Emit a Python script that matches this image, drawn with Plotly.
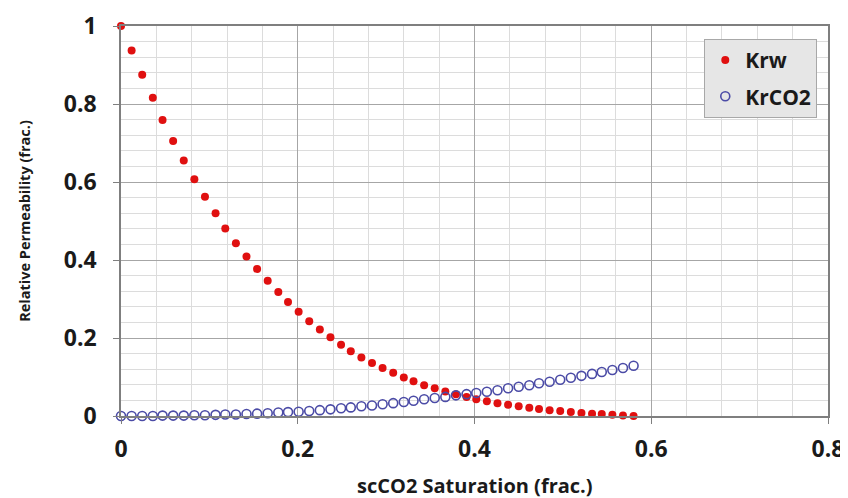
import plotly.graph_objects as go

sg = [0.000, 0.012, 0.024, 0.036, 0.047, 0.059, 0.071, 0.083, 0.095, 0.107,
      0.118, 0.130, 0.142, 0.154, 0.166, 0.178, 0.189, 0.201, 0.213, 0.225,
      0.237, 0.249, 0.260, 0.272, 0.284, 0.296, 0.308, 0.320, 0.331, 0.343,
      0.355, 0.367, 0.379, 0.391, 0.402, 0.414, 0.426, 0.438, 0.450, 0.462,
      0.473, 0.485, 0.497, 0.509, 0.521, 0.533, 0.544, 0.556, 0.568, 0.580]

krw = [1.000, 0.937, 0.875, 0.816, 0.759, 0.705, 0.655, 0.607, 0.562, 0.520,
       0.481, 0.443, 0.409, 0.377, 0.347, 0.318, 0.292, 0.267, 0.243, 0.222,
       0.202, 0.183, 0.166, 0.150, 0.136, 0.123, 0.111, 0.099, 0.089, 0.079,
       0.071, 0.063, 0.056, 0.049, 0.043, 0.038, 0.033, 0.029, 0.025, 0.021,
       0.018, 0.015, 0.013, 0.010, 0.008, 0.006, 0.005, 0.003, 0.001, 0.000]

krco2 = [0.000, 0.000, 0.000, 0.000, 0.001, 0.001, 0.001, 0.002, 0.002, 0.003,
         0.004, 0.004, 0.005, 0.006, 0.007, 0.009, 0.010, 0.011, 0.013, 0.015,
         0.017, 0.020, 0.022, 0.025, 0.027, 0.030, 0.033, 0.036, 0.039, 0.043,
         0.046, 0.049, 0.053, 0.056, 0.059, 0.062, 0.066, 0.071, 0.075, 0.079,
         0.084, 0.088, 0.093, 0.098, 0.103, 0.108, 0.113, 0.118, 0.123, 0.129]

x_ticks = [0, 0.2, 0.4, 0.6, 0.8]
x_tick_labels = ["0", "0.2", "0.4", "0.6", "0.8"]
y_ticks = [0, 0.2, 0.4, 0.6, 0.8, 1]
y_tick_labels = ["0", "0.2", "0.4", "0.6", "0.8", "1"]
x_title = "scCO2 Saturation (frac.)"
y_title = "Relative Permeability (frac.)"

FONT = "Open Sans"
TXT = "#1a1a1a"

fig = go.Figure()
fig.add_trace(go.Scatter(
    x=sg, y=krw, name="Krw", mode="markers", legendgroup="a",
    marker=dict(color="#e01010", size=8, line=dict(width=0)),
    cliponaxis=False,
))
fig.add_trace(go.Scatter(
    x=sg, y=krco2, name="KrCO2", mode="markers", legendgroup="b",
    marker=dict(symbol="circle-open", color="#4b4ba6", size=9, line=dict(width=1.6)),
    cliponaxis=False,
))

axis_common = dict(
    showgrid=True, gridcolor="#a6a6a6", gridwidth=1.2,
    showline=True, linecolor="#7f7f7f", linewidth=1.5, mirror=True,
    zeroline=False, automargin=False,
    ticks="outside", ticklen=6, tickcolor="#7f7f7f",
    ticklabeloverflow="allow",
    tickfont=dict(family=FONT, size=23, color=TXT, weight="bold"),
)

fig.update_layout(
    width=840, height=490,
    margin=dict(l=113, r=20, t=18, b=82),
    paper_bgcolor="white", plot_bgcolor="white",
    font=dict(family=FONT, color=TXT),
    showlegend=True,
    legend=dict(
        x=0.825, y=0.967, xanchor="left", yanchor="top",
        bgcolor="#e6e6e6", bordercolor="#a8a8a8", borderwidth=1,
        font=dict(family=FONT, size=21, color=TXT, weight="bold"),
        itemwidth=30, tracegroupgap=6,
    ),
    xaxis=dict(
        range=[0, 0.8], tickvals=x_ticks, ticktext=x_tick_labels,
        minor=dict(dtick=0.04, showgrid=True, gridcolor="#dcdcdc", gridwidth=1),
        ticklabelstandoff=6,
        **axis_common,
    ),
    yaxis=dict(
        range=[0, 1], tickvals=y_ticks, ticktext=y_tick_labels,
        minor=dict(dtick=0.04, showgrid=True, gridcolor="#dcdcdc", gridwidth=1),
        ticklabelstandoff=12,
        title=dict(text=y_title, standoff=30,
                   font=dict(family=FONT, size=14.5, color=TXT, weight="bold")),
        **axis_common,
    ),
    annotations=[dict(
        text=x_title, xref="paper", yref="paper", x=0.5, y=-0.177,
        xanchor="center", yanchor="middle", showarrow=False,
        font=dict(family=FONT, size=20, color=TXT, weight="bold"),
    )],
)

fig.write_html("out.html")
